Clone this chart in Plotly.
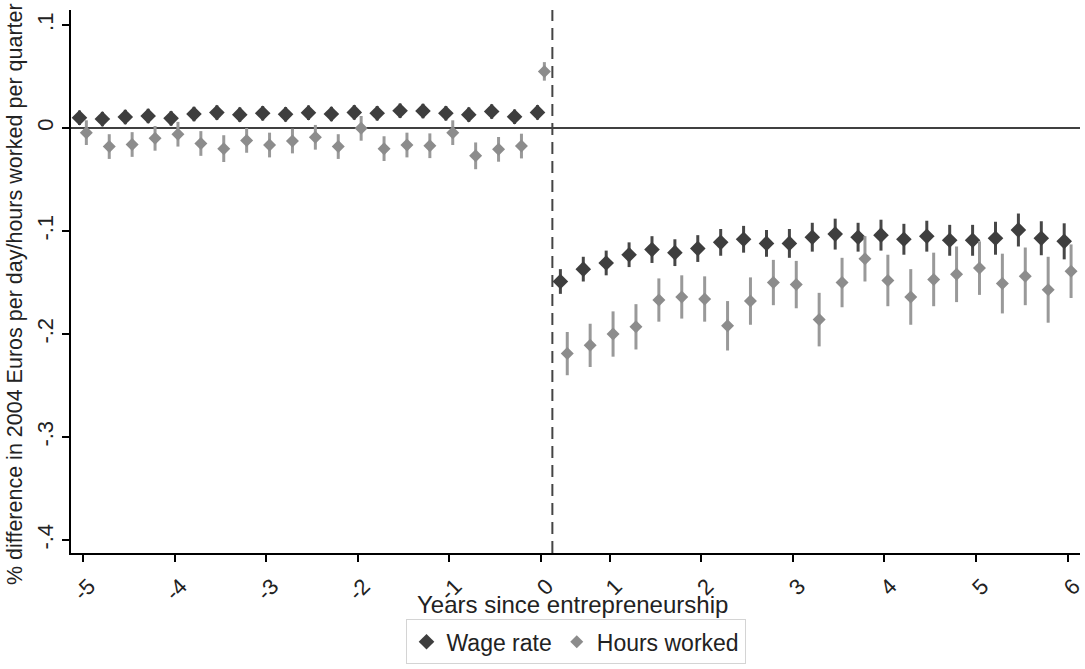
import plotly.graph_objects as go

# ---- data (quarters relative to entry; axis labelled in years) ----
pre_quarters = [-20, -19, -18, -17, -16, -15, -14, -13, -12, -11, -10,
                -9, -8, -7, -6, -5, -4, -3, -2, -1, 0]
post_quarters = [1, 2, 3, 4, 5, 6, 7, 8, 9, 10, 11, 12,
                 13, 14, 15, 16, 17, 18, 19, 20, 21, 22, 23]

wage_pre = [0.010, 0.0087, 0.0107, 0.0117, 0.0094, 0.0136, 0.0150, 0.0130,
            0.0143, 0.0133, 0.0149, 0.0136, 0.0152, 0.0143, 0.0168, 0.0165,
            0.0143, 0.0130, 0.0160, 0.0110, 0.0152]
wage_pre_ci = [0.007] * 21

hours_pre = [-0.0045, -0.018, -0.016, -0.010, -0.006, -0.015, -0.020, -0.012,
             -0.0165, -0.0126, -0.009, -0.018, -0.0003, -0.020, -0.0165,
             -0.0172, -0.0045, -0.027, -0.0207, -0.0175, 0.055]
hours_pre_ci = [0.012, 0.012, 0.012, 0.012, 0.012, 0.012, 0.013, 0.012,
                0.012, 0.012, 0.012, 0.012, 0.012, 0.012, 0.012, 0.012,
                0.012, 0.013, 0.012, 0.012, 0.009]

wage_post = [-0.149, -0.137, -0.131, -0.123, -0.118, -0.121, -0.117, -0.111,
             -0.108, -0.112, -0.112, -0.106, -0.103, -0.106, -0.104, -0.108,
             -0.105, -0.109, -0.109, -0.107, -0.099, -0.107, -0.110]
wage_post_ci = [0.012, 0.012, 0.012, 0.012, 0.013, 0.013, 0.013, 0.013,
                0.013, 0.013, 0.014, 0.014, 0.015, 0.014, 0.015, 0.015,
                0.015, 0.015, 0.015, 0.016, 0.016, 0.0165, 0.0175]

hours_post = [-0.219, -0.211, -0.200, -0.193, -0.167, -0.164, -0.166, -0.192,
              -0.168, -0.150, -0.152, -0.186, -0.150, -0.127, -0.148, -0.164,
              -0.147, -0.142, -0.136, -0.151, -0.144, -0.157, -0.139]
hours_post_ci = [0.021, 0.021, 0.022, 0.022, 0.021, 0.021, 0.022, 0.024,
                 0.023, 0.022, 0.023, 0.026, 0.024, 0.022, 0.025, 0.027,
                 0.026, 0.027, 0.026, 0.029, 0.028, 0.032, 0.026]

x_tick_vals = [-20, -16, -12, -8, -4, 0, 3, 7, 11, 15, 19, 23]
x_tick_text = ["-5", "-4", "-3", "-2", "-1", "0", "1", "2", "3", "4", "5", "6"]
y_tick_vals = [-0.4, -0.3, -0.2, -0.1, 0, 0.1]
y_tick_text = ["-.4", "-.3", "-.2", "-.1", "0", ".1"]
event_line = 0.5

# ---- style ----
FONT = "Liberation Sans, Arial, sans-serif"
DARK = "#3e3e3e"
DARK_BAR = "#474747"
LIGHT = "#8c8c8c"
LIGHT_BAR = "#999999"
OFFSET = 0.15

quarters = pre_quarters + post_quarters
wage = wage_pre + wage_post
wage_ci = wage_pre_ci + wage_post_ci
hours = hours_pre + hours_post
hours_ci = hours_pre_ci + hours_post_ci

fig = go.Figure()
fig.add_trace(go.Scatter(
    x=[q - OFFSET for q in quarters], y=wage, mode="markers", name="Wage rate",
    marker=dict(symbol="diamond", size=12, color=DARK),
    error_y=dict(type="data", array=wage_ci, visible=True, color=DARK_BAR,
                 thickness=3, width=0),
))
fig.add_trace(go.Scatter(
    x=[q + OFFSET for q in quarters], y=hours, mode="markers", name="Hours worked",
    marker=dict(symbol="diamond", size=10, color=LIGHT),
    error_y=dict(type="data", array=hours_ci, visible=True, color=LIGHT_BAR,
                 thickness=3, width=0),
))

# reference lines
fig.add_shape(type="line", xref="paper", x0=0, x1=1, yref="y", y0=0, y1=0,
              line=dict(color="black", width=1.5), layer="below")
fig.add_shape(type="line", xref="x", x0=event_line, x1=event_line, yref="paper",
              y0=0, y1=1, line=dict(color="#444444", width=2, dash="12px,7px"),
              layer="below")

fig.update_layout(
    width=1085, height=669,
    margin=dict(l=71, r=5, t=10, b=116, autoexpand=False),
    paper_bgcolor="white", plot_bgcolor="white",
    font=dict(family=FONT, size=21, color="#222222"),
    showlegend=True,
    legend=dict(orientation="h", x=0.5, xanchor="center", y=-0.122,
                yanchor="top", bordercolor="#d4d4d4", borderwidth=1,
                font=dict(size=23, color="#222222"), itemwidth=30,
                bgcolor="white"),
    xaxis=dict(range=[-20.52, 23.54], tickmode="array", tickvals=x_tick_vals,
               ticktext=x_tick_text, tickangle=-45, showgrid=False,
               zeroline=False, showline=True, linecolor="black", linewidth=1.5,
               ticks="outside", ticklen=7, tickwidth=1.5, tickcolor="black",
               tickfont=dict(size=22), automargin=False,
               ticklabelshift=6, ticklabelstandoff=3),
    yaxis=dict(range=[-0.4126, 0.1146], tickmode="array", tickvals=y_tick_vals,
               ticktext=y_tick_text, tickangle=-90, showgrid=False,
               zeroline=False, showline=True, linecolor="black", linewidth=1.5,
               ticks="outside", ticklen=7, tickwidth=1.5, tickcolor="black",
               tickfont=dict(size=22), automargin=False),
    annotations=[
        dict(text="% difference in 2004 Euros per day/hours worked per quarter",
             xref="paper", yref="paper", x=-0.0555, y=0.477, textangle=-90,
             showarrow=False, xanchor="center", yanchor="middle",
             font=dict(size=21.5, color="#222222")),
        dict(text="Years since entrepreneurship", xref="paper", yref="paper",
             x=0.497, y=-0.094, showarrow=False, xanchor="center",
             yanchor="middle", font=dict(size=24, color="#222222")),
    ],
)

fig.write_html("out.html",
               config={"displayModeBar": False},
               post_script="document.body.style.margin='0';"
                           "document.body.style.padding='0';")
